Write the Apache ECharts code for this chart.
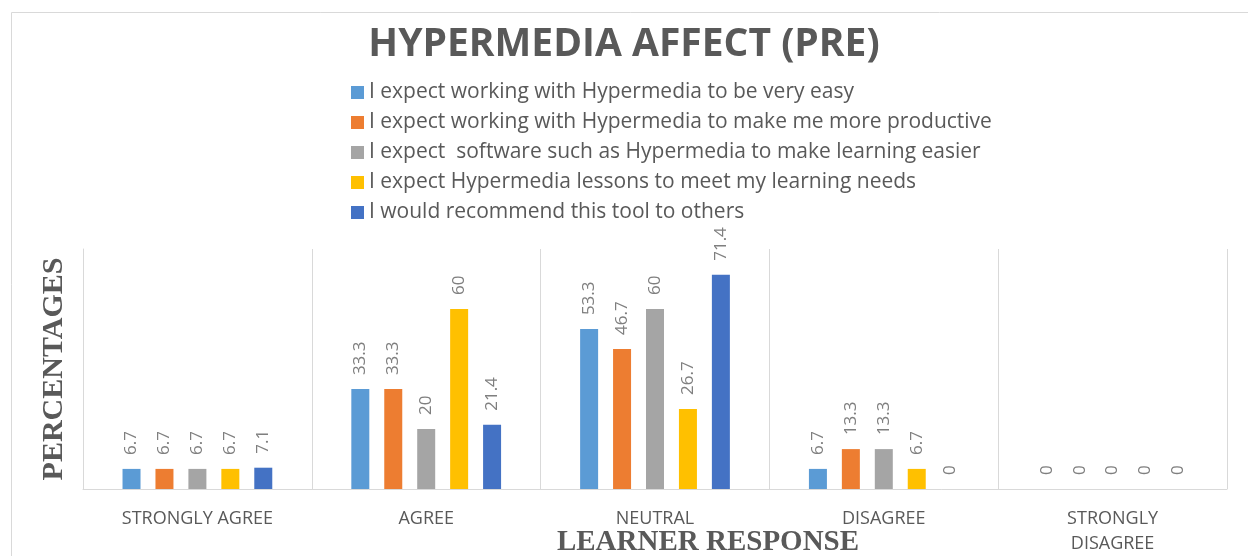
<!DOCTYPE html>
<html>
<head>
<meta charset="utf-8">
<script src="https://cdn.jsdelivr.net/npm/echarts@6/dist/echarts.min.js"></script>
<style>
  html, body { margin: 0; padding: 0; background: #fff; }
  #chart { width: 1248px; height: 556px; }
</style>
</head>
<body>
<div id="chart"></div>
<script>
// categories and series
const responses = ['STRONGLY AGREE', 'AGREE', 'NEUTRAL', 'DISAGREE', 'STRONGLY\nDISAGREE'];
const seriesNames = [
  'I expect working with Hypermedia to be very easy',
  'I expect working with Hypermedia to make me more productive',
  'I expect  software such as Hypermedia to make learning easier',
  'I expect Hypermedia lessons to meet my learning needs',
  'I would recommend this tool to others'
];
const veryEasy = [6.7, 33.3, 53.3, 6.7, 0];
const productive = [6.7, 33.3, 46.7, 13.3, 0];
const learningEasier = [6.7, 20, 60, 13.3, 0];
const meetNeeds = [6.7, 60, 26.7, 6.7, 0];
const recommend = [7.1, 21.4, 71.4, 0, 0];

const colors = ['#5B9BD5', '#ED7D31', '#A5A5A5', '#FFC000', '#4472C4'];
const seriesData = [veryEasy, productive, learningEasier, meetNeeds, recommend];

const chart = echarts.init(document.getElementById('chart'));

const option = {
  animation: false,
  color: colors,
  graphic: [{
    type: 'rect',
    shape: { x: 11.5, y: 12.5, width: 1260, height: 600 },
    style: { fill: 'none', stroke: '#d9d9d9', lineWidth: 1 },
    silent: true
  }],
  title: {
    text: 'HYPERMEDIA AFFECT (PRE)',
    left: 'center',
    top: 20,
    textStyle: {
      fontFamily: 'Open Sans',
      fontWeight: 'bold',
      fontSize: 39,
      color: '#595959'
    }
  },
  legend: {
    orient: 'vertical',
    left: 346,
    top: 77,
    itemWidth: 13,
    itemHeight: 13,
    itemGap: 9,
    icon: 'rect',
    data: seriesNames,
    textStyle: { fontFamily: 'Open Sans', fontSize: 21, lineHeight: 20, color: '#595959' }
  },
  grid: { left: 83, right: 21, top: 249, bottom: 67, containLabel: false, outerBoundsMode: 'none' },
  xAxis: {
    type: 'category',
    data: responses,
    name: 'LEARNER RESPONSE',
    nameLocation: 'middle',
    nameGap: 39,
    nameMoveOverlap: false,
    nameTextStyle: {
      fontFamily: 'Liberation Serif',
      fontWeight: 'bold',
      fontSize: 29,
      color: '#595959',
      padding: [0, 0, 0, 106]
    },
    axisLine: { lineStyle: { color: '#d9d9d9', width: 1 } },
    axisTick: { show: false },
    axisLabel: {
      fontFamily: 'Open Sans',
      fontSize: 18,
      color: '#595959',
      margin: 17,
      lineHeight: 25,
      interval: 0
    },
    splitLine: { show: true, lineStyle: { color: '#d9d9d9', width: 1 } }
  },
  yAxis: {
    type: 'value',
    min: 0,
    max: 80,
    name: 'PERCENTAGES',
    nameLocation: 'middle',
    nameGap: 14,
    nameTextStyle: {
      fontFamily: 'Liberation Serif',
      fontWeight: 'bold',
      fontSize: 30,
      color: '#595959'
    },
    axisLine: { show: true, lineStyle: { color: '#d9d9d9', width: 1 } },
    axisTick: { show: false },
    axisLabel: { show: false },
    splitLine: { show: false }
  },
  series: seriesNames.map((name, i) => ({
    name: name,
    type: 'bar',
    data: seriesData[i],
    barWidth: 18,
    barGap: '83%',
    label: {
      show: true,
      position: 'top',
      rotate: 90,
      align: 'left',
      verticalAlign: 'middle',
      distance: 14,
      fontFamily: 'Open Sans',
      fontSize: 17,
      color: '#7f7f7f'
    }
  }))
};

chart.setOption(option);
</script>
</body>
</html>
